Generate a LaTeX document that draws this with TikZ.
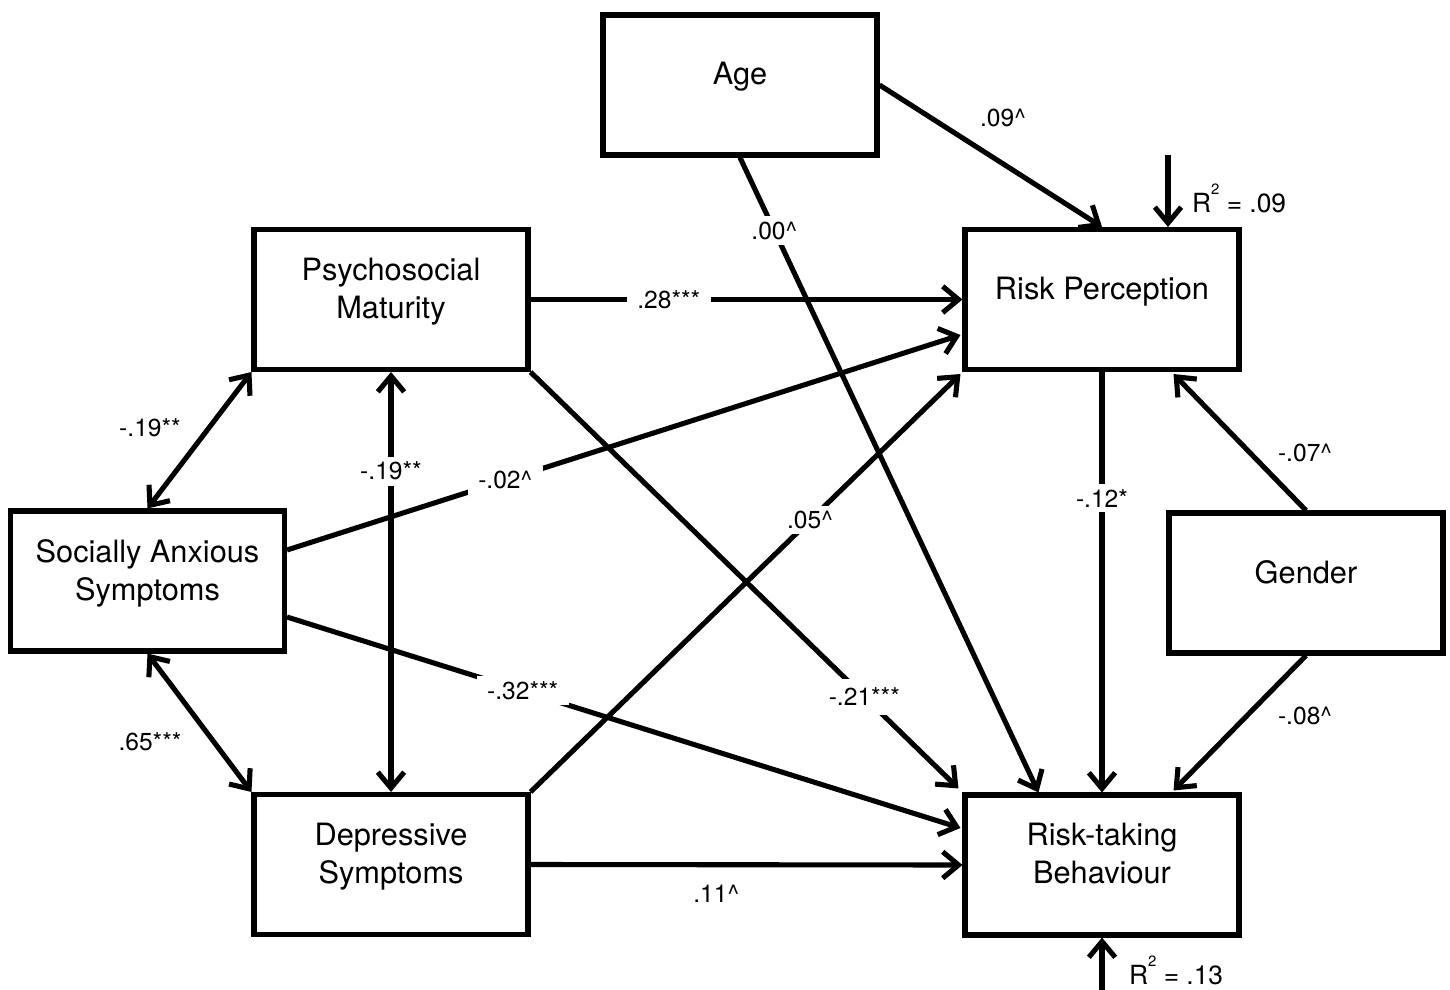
\documentclass[tikz,border=0pt]{standalone}
\usepackage{fontspec}
\setmainfont{TeX Gyre Heros}
\usetikzlibrary{arrows.meta,calc}
\tikzset{
  box/.style={draw, line width=2.9pt, minimum width=5.48cm, minimum height=2.8cm,
    align=center, font=\fontsize{17.5}{21.6}\selectfont, inner sep=2pt, text depth=13pt},
  conn/.style={line width=2.9pt, -{Straight Barb[length=9pt,width=15pt,line width=2.9pt]}},
  dconn/.style={line width=2.9pt, {Straight Barb[length=9pt,width=15pt,line width=2.9pt]}-{Straight Barb[length=9pt,width=15pt,line width=2.9pt]}},
  lab/.style={font=\fontsize{14}{16}\selectfont, inner sep=1pt},
  rlab/.style={font=\fontsize{15}{17}\selectfont, inner sep=1pt, anchor=base west},
  gaplab/.style={lab, fill=white, inner xsep=6pt, inner ysep=3pt},
}
\newcommand{\rsq}[1]{R\raisebox{1.3ex}{\fontsize{8.5}{8.5}\selectfont 2} = #1}
\begin{document}
\begin{tikzpicture}[x=0.02cm,y=-0.02cm]
\useasboundingbox (0,0) rectangle (1450,990);
\node[box] (age) at (740,85) {Age};
\node[box] (pm) at (391,299.5) {Psychosocial\\Maturity};
\node[box] (rp) at (1102,299.5) {Risk Perception};
\node[box] (sa) at (147.5,581) {Socially Anxious\\Symptoms};
\node[box] (gen) at (1306,583) {Gender};
\node[box] (dep) at (391,864.5) {Depressive\\Symptoms};
\node[box] (rt) at (1102,865) {Risk-taking\\Behaviour};

\coordinate (r1) at ($(rp.north)+(66,-72)$);
\coordinate (r2) at ($(rt.south)+(0,58)$);

% Age
\draw[conn] (age.east) -- (rp.north);
\node[lab] (l09) at (1003,118) {.09\^{}};
\draw[conn] (age.south) -- ($(rt.north west)+(76,0)$) node[gaplab, pos=0.115] {.00\^{}};
% R2
\draw[conn] (r1) -- (r1 |- rp.north);
\node[rlab] (r1l) at (1190,212) {\rsq{.09}};
\draw[conn] (r2) -- (r2 |- rt.south);
\node[rlab] (r2l) at (1127,984) {\rsq{.13}};
% PM
\draw[conn] (pm.east) -- (rp.west) node[gaplab, pos=0.32] {.28***};
\draw[conn] (pm.south east) -- ($(rt.north west)+(-4,-4)$) node[gaplab, pos=0.78, inner ysep=5pt] {-.21***};
% SA
\draw[conn] ($(sa.east)+(0,-31)$) -- ($(rp.west)+(-2,35.5)$) node[gaplab, pos=0.324] {-.02\^{}};
\draw[conn] ($(sa.east)+(0,36)$) -- ($(rt.west)+(-2,-37)$) node[gaplab, pos=0.35] {-.32***};
% Dep
\draw[conn] (dep.north east) -- ($(rp.south west)+(-2,2)$) node[gaplab, pos=0.65] {.05\^{}};
\draw[conn] (dep.east) -- (rt.west) node[lab, pos=0.43, below=9pt] {.11\^{}};
% RP
\draw[conn] (rp.south) -- (rt.north) node[gaplab, pos=0.30, inner xsep=2pt] {-.12*};
% Gender
\draw[conn] (gen.north) -- ($(rp.south east)+(-68,2)$);
\node[lab] (g1) at (1305,453) {-.07\^{}};
\draw[conn] (gen.south) -- ($(rt.north east)+(-68,-2)$);
\node[lab] (g2) at (1305,716) {-.08\^{}};
% correlations
\draw[dconn] (pm.south) -- (dep.north) node[gaplab, pos=0.236, inner xsep=2pt] {-.19**};
\draw[dconn] (pm.south west) -- (sa.north);
\node[lab] (c1) at (150,428) {-.19**};
\draw[dconn] (sa.south) -- (dep.north west);
\node[lab] (c2) at (150,742) {.65***};
\end{tikzpicture}
\end{document}
